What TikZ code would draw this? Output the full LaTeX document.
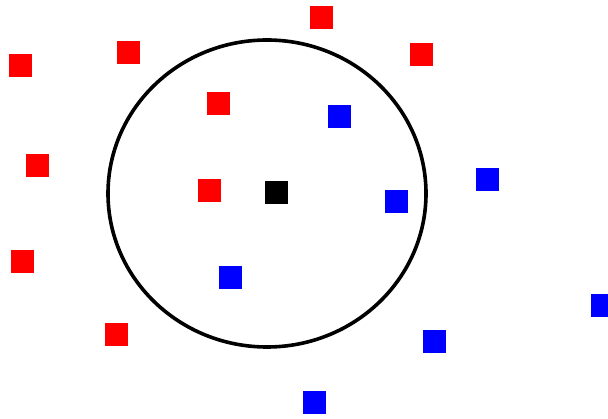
\documentclass[tikz,border=0pt]{standalone}
\begin{document}
\begin{tikzpicture}[x=1pt,y=-1pt,
  pt/.style={rectangle,minimum size=23pt,inner sep=0pt,outer sep=0pt,draw=none},
  redpt/.style={pt,fill=red},
  bluept/.style={pt,fill=blue},
  blackpt/.style={pt,fill=black},
  ring/.style={draw=black,line width=3.6pt}]
\useasboundingbox (0,0) rectangle (608,419);
\clip (0,0) rectangle (608,419);
\fill[white] (0,0) rectangle (608,419);
\draw[ring] (267,193.5) ellipse [x radius=159, y radius=153.5];
% red
\node[redpt] (r1) at (321.5,17.5) {};
\node[redpt] (r2) at (128,52.5) {};
\node[redpt] (r3) at (421.5,54.5) {};
\node[redpt] (r4) at (20.5,65.5) {};
\node[redpt] (r5) at (218.5,103.5) {};
\node[redpt] (r6) at (37.5,165.5) {};
\node[redpt] (r7) at (209.5,190.5) {};
\node[redpt] (r8) at (22,261.5) {};
\node[redpt] (r9) at (116.5,334.5) {};
% blue
\node[bluept] (b1) at (339.5,116.5) {};
\node[bluept] (b2) at (487.5,179.5) {};
\node[bluept] (b3) at (396.5,201.5) {};
\node[bluept] (b4) at (230.5,277.5) {};
\node[bluept] (b5) at (602.5,305.5) {};
\node[bluept] (b6) at (434,341.5) {};
\node[bluept] (b7) at (314.5,402.5) {};
% query
\node[blackpt] (q) at (276.5,192.5) {};
\end{tikzpicture}
\end{document}
